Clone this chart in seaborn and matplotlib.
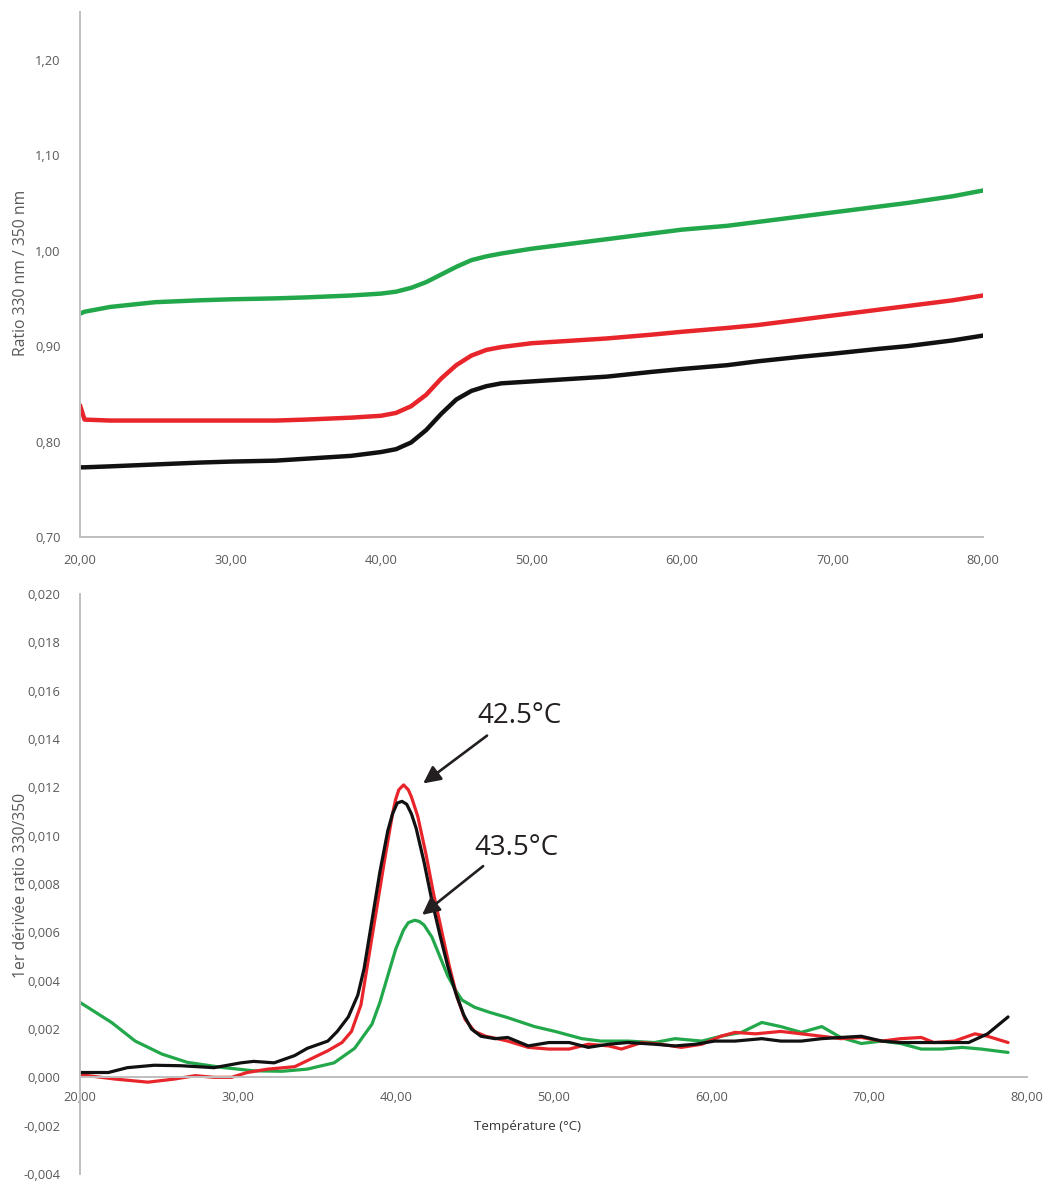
import matplotlib
matplotlib.use("Agg")
import matplotlib.pyplot as plt
from matplotlib.ticker import FuncFormatter
import seaborn as sns
import pandas as pd

# ---------------- data ----------------
# Top panel: ratio 330/350 vs temperature
temp_top = [20, 20.3, 22, 25, 28, 30, 33, 35, 38, 40,
            41, 42, 43, 44, 45, 46, 47, 48, 50, 52,
            55, 58, 60, 63, 65, 68, 70, 73, 75, 78, 80]
ratio_green = [0.934, 0.936, 0.941, 0.946, 0.948, 0.949, 0.950, 0.951, 0.953, 0.955,
               0.957, 0.961, 0.967, 0.975, 0.983, 0.990, 0.994, 0.997, 1.002, 1.006,
               1.012, 1.018, 1.022, 1.026, 1.030, 1.036, 1.040, 1.046, 1.050, 1.057, 1.063]
ratio_red = [0.838, 0.823, 0.822, 0.822, 0.822, 0.822, 0.822, 0.823, 0.825, 0.827,
             0.830, 0.837, 0.849, 0.866, 0.880, 0.890, 0.896, 0.899, 0.903, 0.905,
             0.908, 0.912, 0.915, 0.919, 0.922, 0.928, 0.932, 0.938, 0.942, 0.948, 0.953]
ratio_black = [0.773, 0.773, 0.774, 0.776, 0.778, 0.779, 0.780, 0.782, 0.785, 0.789,
               0.792, 0.799, 0.812, 0.829, 0.844, 0.853, 0.858, 0.861, 0.863, 0.865,
               0.868, 0.873, 0.876, 0.880, 0.884, 0.889, 0.892, 0.897, 0.900, 0.906, 0.911]

# Bottom panel: first derivative
temp_red = [20, 22.2, 24.3, 26, 27.3, 28.5, 29.6, 30.6, 31.9, 33.6,
            34.4, 35.7, 36.6, 37.2, 37.8, 38.3, 38.8, 39.3, 39.8, 40.0,
            40.2, 40.5, 40.8, 41.0, 41.4, 41.9, 42.4, 42.9, 43.4, 43.9,
            44.4, 45.0, 45.7, 46.3, 47.1, 48.4, 49.7, 51, 52.2, 53.5,
            54.3, 55.6, 56.8, 58.1, 59.4, 60.6, 61.5, 62.8, 64.4, 65.7,
            67, 68.2, 69.5, 70.8, 72, 73.3, 74.1, 75.4, 76.7, 77.5, 78.8]
deriv_red = [0.00011, -0.00007, -0.0002, -0.00007, 0.00007, 0.0, 0.0, 0.0002, 0.00034, 0.00044,
             0.00069, 0.0011, 0.00144, 0.0019, 0.0030, 0.0050, 0.0070, 0.0090, 0.0109, 0.0115,
             0.0119, 0.0121, 0.0119, 0.0116, 0.0108, 0.0093, 0.0076, 0.0061, 0.0046, 0.0033,
             0.0024, 0.0019, 0.0017, 0.00162, 0.0015, 0.00124, 0.00117, 0.00117, 0.00137, 0.0013,
             0.00117, 0.00144, 0.00137, 0.00124, 0.00137, 0.0017, 0.00186, 0.0018, 0.0019, 0.0018,
             0.0017, 0.0016, 0.00165, 0.0015, 0.0016, 0.00165, 0.00144, 0.0015, 0.0018, 0.0017, 0.00144]

temp_black = [20, 21.8, 23, 24.7, 26.4, 28.5, 30.2, 31, 32.3, 33.6,
              34.4, 35.7, 36.3, 37.0, 37.6, 38.0, 38.5, 39.0, 39.5, 39.8,
              40.1, 40.4, 40.7, 41.0, 41.3, 41.8, 42.3, 42.8, 43.3, 43.8,
              44.3, 44.8, 45.4, 46.3, 47.1, 48.4, 49.7, 51, 52.2, 53.5,
              54.7, 56.4, 57.7, 59, 60.2, 61.5, 63.2, 64.4, 65.7, 67,
              68.2, 69.5, 70.8, 72, 73.3, 75, 76.3, 77.5, 78.8]
deriv_black = [0.0002, 0.0002, 0.0004, 0.0005, 0.00048, 0.0004, 0.0006, 0.00066, 0.0006, 0.0009,
               0.0012, 0.0015, 0.0019, 0.0025, 0.0034, 0.0045, 0.0065, 0.0085, 0.0102, 0.0109,
               0.01135, 0.01142, 0.0113, 0.0109, 0.0103, 0.0089, 0.0073, 0.0059, 0.0046, 0.0035,
               0.0026, 0.0020, 0.0017, 0.0016, 0.00165, 0.0013, 0.00144, 0.00144, 0.00124, 0.00137,
               0.00144, 0.00137, 0.0013, 0.00137, 0.0015, 0.0015, 0.0016, 0.0015, 0.0015, 0.0016,
               0.00165, 0.0017, 0.0015, 0.00144, 0.00144, 0.00144, 0.00144, 0.0018, 0.0025]

temp_green = [20, 22, 23.5, 25.2, 26.8, 29, 31, 32.8, 34.4, 36.1,
              37.4, 38.5, 39.0, 39.5, 40.0, 40.5, 40.8, 41.2, 41.5, 41.8,
              42.3, 42.8, 43.3, 43.8, 44.2, 45.0, 45.9, 47.1, 48.8, 50.1,
              51.8, 53.0, 54.7, 56.4, 57.7, 59.4, 60.6, 61.9, 63.2, 64.4,
              65.7, 67.0, 68.2, 69.5, 70.8, 72.0, 73.3, 74.6, 75.9, 77.1, 78.8]
deriv_green = [0.0031, 0.00227, 0.0015, 0.00096, 0.00062, 0.00041, 0.00027, 0.00025, 0.00034, 0.0006,
               0.0012, 0.0022, 0.0031, 0.0042, 0.0053, 0.0061, 0.0064, 0.0065, 0.00645, 0.0063,
               0.0058, 0.0050, 0.0042, 0.0036, 0.0032, 0.0029, 0.0027, 0.00247, 0.0021, 0.0019,
               0.0016, 0.0015, 0.0015, 0.00144, 0.0016, 0.0015, 0.0017, 0.00186, 0.00227, 0.0021,
               0.00186, 0.0021, 0.00165, 0.0014, 0.0015, 0.0014, 0.00117, 0.00117, 0.00124, 0.00117, 0.00103]

x_ticks = [20, 30, 40, 50, 60, 70, 80]
top_yticks = [0.70, 0.80, 0.90, 1.00, 1.10, 1.20]
bottom_yticks = [-0.004, -0.002, 0.000, 0.002, 0.004, 0.006, 0.008, 0.010,
                 0.012, 0.014, 0.016, 0.018, 0.020]
peak_labels = ["42.5°C", "43.5°C"]

# ---------------- style ----------------
sns.set_theme(style="white")
plt.rcParams['font.family'] = ['Open Sans', 'DejaVu Sans']

GREEN = "#22a84b"
RED = "#e8252a"
BLACK = "#111111"
AXIS = "#bfbfbf"
TICK = "#595959"

W, H = 1045, 1182
fig = plt.figure(figsize=(W / 100, H / 100), dpi=100)
fig.patch.set_facecolor("white")

def px_axes(l, t, r, b):
    return [l / W, 1 - b / H, (r - l) / W, (b - t) / H]

ax1 = fig.add_axes(px_axes(80, 12, 983, 537))
ax2 = fig.add_axes(px_axes(80, 594, 1027, 1174))

# ---------------- top panel ----------------
df_top = pd.DataFrame({"T": temp_top, "green": ratio_green,
                       "red": ratio_red, "black": ratio_black})
for col, c in [("green", GREEN), ("red", RED), ("black", BLACK)]:
    sns.lineplot(data=df_top, x="T", y=col, ax=ax1, color=c, lw=3.2,
                 sort=False, estimator=None)

ax1.set_xlim(20, 80)
ax1.set_ylim(0.70, 1.25)
ax1.set_xticks(x_ticks)
ax1.set_yticks(top_yticks)
ax1.xaxis.set_major_formatter(FuncFormatter(lambda v, p: f"{v:.2f}".replace(".", ",")))
ax1.yaxis.set_major_formatter(FuncFormatter(lambda v, p: f"{v:.2f}".replace(".", ",")))
ax1.set_xlabel("")
ax1.set_ylabel("")
for s in ["top", "right"]:
    ax1.spines[s].set_visible(False)
for s in ["left", "bottom"]:
    ax1.spines[s].set_color(AXIS)
    ax1.spines[s].set_linewidth(1.4)
ax1.tick_params(axis="both", length=0, colors=TICK, labelsize=9.3)
ax1.tick_params(axis="y", pad=14)
ax1.tick_params(axis="x", pad=12)
ax1.set_facecolor("white")

# ---------------- bottom panel ----------------
series = [(temp_green, deriv_green, GREEN),
          (temp_red, deriv_red, RED),
          (temp_black, deriv_black, BLACK)]
for tx, dv, c in series:
    d = pd.DataFrame({"T": tx, "v": dv})
    sns.lineplot(data=d, x="T", y="v", ax=ax2, color=c, lw=2.3,
                 sort=False, estimator=None)

ax2.set_xlim(20, 80)
ax2.set_ylim(-0.004, 0.020)
ax2.set_xticks(x_ticks)
ax2.set_yticks(bottom_yticks)
ax2.xaxis.set_major_formatter(FuncFormatter(lambda v, p: f"{v:.2f}".replace(".", ",")))
ax2.yaxis.set_major_formatter(FuncFormatter(lambda v, p: f"{v:.3f}".replace(".", ",")))
ax2.set_ylabel("")
ax2.spines["bottom"].set_position(("data", 0))
for s in ["top", "right"]:
    ax2.spines[s].set_visible(False)
for s in ["left", "bottom"]:
    ax2.spines[s].set_color(AXIS)
    ax2.spines[s].set_linewidth(1.4)
ax2.tick_params(axis="both", length=0, colors=TICK, labelsize=9.3)
ax2.tick_params(axis="y", pad=14)
ax2.tick_params(axis="x", pad=10)
ax2.set_xlabel("Température (°C)", fontsize=9.5, color="#333333")
ax2.xaxis.set_label_coords((528 - 80) / 947, (1174 - 1120) / 580)
ax2.set_facecolor("white")

# annotations
arrow_style = dict(arrowstyle="-|>,head_length=0.65,head_width=0.32",
                   color="#231f20", lw=1.9, shrinkA=0, shrinkB=0,
                   mutation_scale=16)
ax2.annotate("", xy=(41.74, 0.01216), xytext=(45.79, 0.01414), arrowprops=arrow_style)
ax2.annotate("", xy=(41.67, 0.00672), xytext=(45.54, 0.00874), arrowprops=arrow_style)
ax2.text(47.82, 0.01497, peak_labels[0], ha="center", va="center",
         fontsize=20, color="#231f20")
ax2.text(47.63, 0.00948, peak_labels[1], ha="center", va="center",
         fontsize=20, color="#231f20")

# y labels
fig.text(21 / W, 1 - 273 / H, "Ratio 330 nm / 350 nm", rotation=90,
         ha="center", va="center", fontsize=11.3, color=TICK)
fig.text(21 / W, 1 - 885 / H, "1er dérivée ratio 330/350", rotation=90,
         ha="center", va="center", fontsize=11.3, color=TICK)

fig.savefig("out.png", dpi=100, facecolor="white")
